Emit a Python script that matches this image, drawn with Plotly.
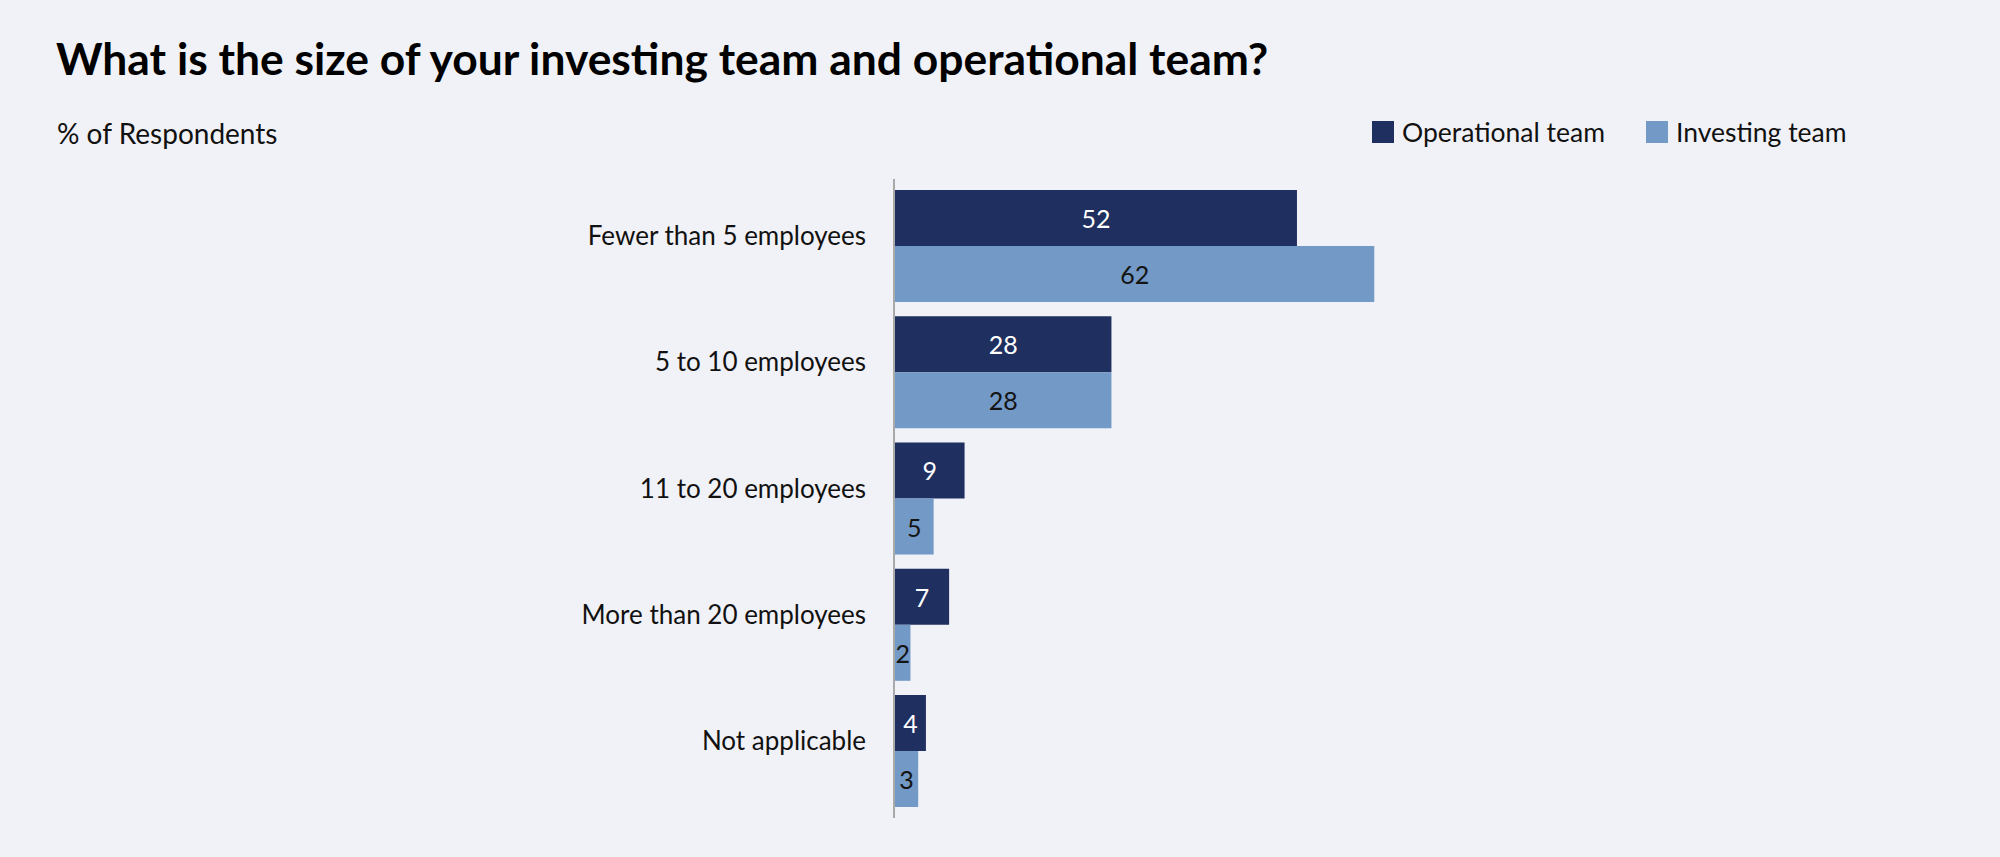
import plotly.graph_objects as go

# 데이터
categories = [
    "Fewer than 5 employees",
    "5 to 10 employees",
    "11 to 20 employees",
    "More than 20 employees",
    "Not applicable",
]
series_names = ["Operational team", "Investing team"]
operational = [52, 28, 9, 7, 4]
investing = [62, 28, 5, 2, 3]

DARK = "#1f2f5f"
LIGHT = "#7399c6"
BG = "#f1f2f7"
FONT = "Lato"

W, H = 2000, 857
M_L, M_R, M_T, M_B = 895, 332, 179, 39
PLOT_W = W - M_L - M_R
PLOT_H = H - M_T - M_B


def px_x(px):
    return (px - M_L) / PLOT_W


def px_y(py):
    return 1 - (py - M_T) / PLOT_H


fig = go.Figure()

for name, vals, col, txt in [
    (series_names[0], operational, DARK, "white"),
    (series_names[1], investing, LIGHT, "#141414"),
]:
    fig.add_trace(go.Bar(
        y=categories,
        x=vals,
        name=name,
        orientation="h",
        marker=dict(color=col, line=dict(width=0)),
        text=vals,
        textposition="inside",
        insidetextanchor="middle",
        constraintext="none",
        textfont=dict(family=FONT, size=25, color=txt),
        showlegend=False,
        hoverinfo="skip",
    ))

# 범례 (사각형 + 텍스트)
legend_items = [(series_names[0], DARK, 1372), (series_names[1], LIGHT, 1646)]
shapes = []
annotations = []
for name, col, x0 in legend_items:
    shapes.append(dict(
        type="rect", xref="paper", yref="paper",
        x0=px_x(x0), x1=px_x(x0 + 22), y0=px_y(143), y1=px_y(121),
        fillcolor=col, line=dict(width=0),
    ))
    annotations.append(dict(
        xref="paper", yref="paper", x=px_x(x0 + 28), y=px_y(132),
        xanchor="left", yanchor="middle", showarrow=False,
        text=name, font=dict(family=FONT, size=26.5, color="#111111"),
    ))

annotations.append(dict(
    xref="paper", yref="paper", x=px_x(55), y=px_y(133),
    xanchor="left", yanchor="middle", showarrow=False,
    text="% of Respondents", font=dict(family=FONT, size=28, color="#111111"),
))

fig.update_layout(
    width=W, height=H,
    margin=dict(l=M_L, r=M_R, t=M_T, b=M_B),
    paper_bgcolor=BG, plot_bgcolor=BG,
    barmode="group",
    bargap=0.113,
    bargroupgap=0,
    title=dict(
        text="<b>What is the size of your investing team and operational team?</b>",
        xref="container", yref="container",
        x=56 / W, xanchor="left",
        y=1 - 44 / H, yanchor="top",
        font=dict(family=FONT, size=44.4, color="#000000"),
    ),
    shapes=shapes,
    annotations=annotations,
)

fig.update_xaxes(range=[0, 100], visible=False, showgrid=False, zeroline=False)
fig.update_yaxes(
    range=[4.53, -0.53],
    showline=True, linecolor="#a9a9a9", linewidth=1.5,
    showgrid=False, zeroline=False, ticks="",
    ticklabelstandoff=22,
    ticklabelshift=10,
    tickfont=dict(family=FONT, size=26, color="#111111"),
)

fig.write_html(
    "out.html",
    config={"displayModeBar": False},
    post_script="document.body.style.margin='0';document.body.style.background='%s';" % BG,
)
